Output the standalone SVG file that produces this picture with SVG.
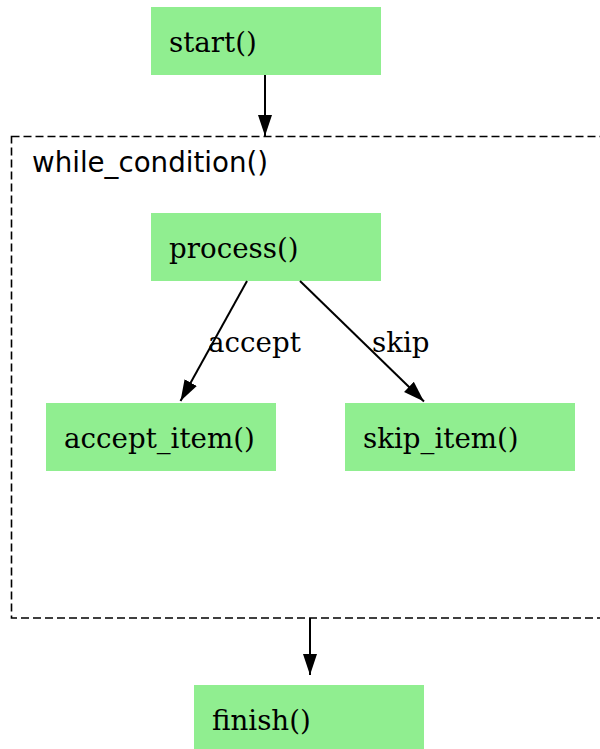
<svg xmlns="http://www.w3.org/2000/svg" width="600" height="749" viewBox="0 0 600 749">
<defs>
<marker id="ah" markerUnits="userSpaceOnUse" markerWidth="22" markerHeight="16" refX="21" refY="8" orient="auto">
<path d="M0,1 L21,8 L0,15 Z" fill="#000"/>
</marker>
<style>
.node rect{fill:#90ee90;stroke:none}
.node text{font-family:"DejaVu Serif",serif;font-size:27.7px;fill:#000}
.edge{stroke:#000;stroke-width:2;fill:none;marker-end:url(#ah)}
.elabel{font-family:"DejaVu Serif",serif;font-size:27.7px;fill:#000}
.cluster rect{fill:none;stroke:#000;stroke-width:1.6;stroke-dasharray:8,4}
.cluster text{font-family:"DejaVu Sans",sans-serif;font-size:27.7px;fill:#000}
</style>
</defs>
<rect width="600" height="749" fill="#fff"/>
<g id="cluster_while" class="cluster">
<rect x="11.5" y="136.5" width="620" height="481.5"/>
<text x="32" y="172">while_condition()</text>
</g>
<g id="start" class="node">
<rect x="151" y="7" width="230" height="68"/>
<text x="169" y="52">start()</text>
</g>
<g id="process" class="node">
<rect x="151" y="213" width="230" height="68"/>
<text x="169" y="258">process()</text>
</g>
<g id="accept_item" class="node">
<rect x="46" y="403" width="230" height="68"/>
<text x="64" y="448">accept_item()</text>
</g>
<g id="skip_item" class="node">
<rect x="345" y="403" width="230" height="68"/>
<text x="363" y="448">skip_item()</text>
</g>
<g id="finish" class="node">
<rect x="194" y="685" width="230" height="68"/>
<text x="212" y="730">finish()</text>
</g>
<g id="connectors">
<line class="edge" x1="265" y1="75" x2="265" y2="136"/>
<line class="edge" x1="247" y1="281" x2="180.5" y2="401"/>
<line class="edge" x1="300" y1="281" x2="424" y2="401.5"/>
<line class="edge" x1="310" y1="618" x2="310" y2="675"/>
<text class="elabel" x="208" y="352">accept</text>
<text class="elabel" x="372" y="352">skip</text>
</g>
</svg>
